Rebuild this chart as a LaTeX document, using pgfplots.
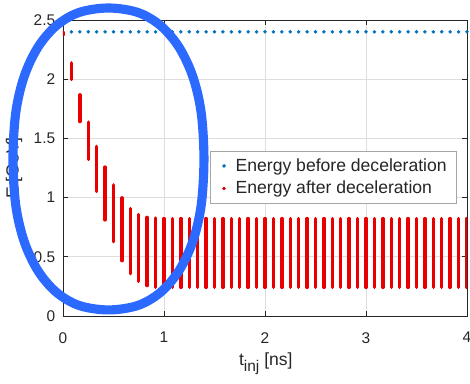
\documentclass[border=0pt]{standalone}
\usepackage{fontspec}
\setmainfont{Liberation Sans}
\usepackage{pgfplots}
\usepackage{pgfplotstable}
\pgfplotsset{compat=1.18}
\definecolor{mblue}{RGB}{0,114,189}
\definecolor{mred}{RGB}{232,0,0}
\definecolor{ellblue}{RGB}{44,106,255}
\definecolor{axgray}{RGB}{38,38,38}

\pgfplotstableread{
t E
0.0833 2.4
0.1667 2.4
0.2500 2.4
0.3333 2.4
0.4167 2.4
0.5000 2.4
0.5833 2.4
0.6667 2.4
0.7500 2.4
0.8333 2.4
0.9167 2.4
1.0000 2.4
1.0833 2.4
1.1667 2.4
1.2500 2.4
1.3333 2.4
1.4167 2.4
1.5000 2.4
1.5833 2.4
1.6667 2.4
1.7500 2.4
1.8333 2.4
1.9167 2.4
2.0000 2.4
2.0833 2.4
2.1667 2.4
2.2500 2.4
2.3333 2.4
2.4167 2.4
2.5000 2.4
2.5833 2.4
2.6667 2.4
2.7500 2.4
2.8333 2.4
2.9167 2.4
3.0000 2.4
3.0833 2.4
3.1667 2.4
3.2500 2.4
3.3333 2.4
3.4167 2.4
3.5000 2.4
3.5833 2.4
3.6667 2.4
3.7500 2.4
3.8333 2.4
3.9167 2.4
4.0000 2.4
}\before

\pgfplotstableread{
t lo d
0.0000 2.375 0.020
0.0833 1.997 0.141
0.1667 1.642 0.226
0.2500 1.322 0.316
0.3333 1.052 0.381
0.4167 0.812 0.446
0.5000 0.627 0.481
0.5833 0.467 0.531
0.6667 0.357 0.551
0.7500 0.292 0.566
0.8333 0.257 0.576
0.9167 0.242 0.586
1.0000 0.242 0.581
1.0833 0.242 0.581
1.1667 0.242 0.581
1.2500 0.242 0.581
1.3333 0.242 0.581
1.4167 0.242 0.581
1.5000 0.242 0.581
1.5833 0.242 0.581
1.6667 0.242 0.581
1.7500 0.242 0.581
1.8333 0.242 0.581
1.9167 0.242 0.581
2.0000 0.242 0.581
2.0833 0.242 0.581
2.1667 0.242 0.581
2.2500 0.242 0.581
2.3333 0.242 0.581
2.4167 0.242 0.581
2.5000 0.242 0.581
2.5833 0.242 0.581
2.6667 0.242 0.581
2.7500 0.242 0.581
2.8333 0.242 0.581
2.9167 0.242 0.581
3.0000 0.242 0.581
3.0833 0.242 0.581
3.1667 0.242 0.581
3.2500 0.242 0.581
3.3333 0.242 0.581
3.4167 0.242 0.581
3.5000 0.242 0.581
3.5833 0.242 0.581
3.6667 0.242 0.581
3.7500 0.242 0.581
3.8333 0.242 0.581
3.9167 0.242 0.581
4.0000 0.242 0.581
}\after

\begin{document}
\begin{tikzpicture}
\begin{axis}[
  scale only axis, width=10.1cm, height=7.4cm,
  xmin=0, xmax=4, ymin=0, ymax=2.5,
  xtick={0,1,2,3,4}, ytick={0,0.5,1,1.5,2,2.5},
  grid=major, major grid style={draw=black!13, line width=0.5pt},
  tick align=inside, major tick length=3.5pt,
  axis line style={axgray, line width=0.6pt},
  tick style={axgray, line width=0.6pt},
  ticklabel style={font=\fontsize{11}{13}\selectfont, text=axgray},
  /pgf/number format/assume math mode=true,
  xticklabel style={yshift=-8pt},
  yticklabel style={xshift=-2pt},
  xlabel={t\raisebox{-0.6ex}{\fontsize{11}{12}\selectfont inj} [ns]},
  ylabel={E [GeV]},
  label style={font=\fontsize{12.5}{14}\selectfont, text=axgray},
  xlabel style={at={(axis description cs:0.502,-0.108)}, anchor=north},
  ylabel style={at={(axis description cs:-0.121,0.5)}, anchor=center},
  legend style={at={(axis description cs:0.975,0.557)}, anchor=north east,
    draw=black!35, line width=0.5pt, fill=white,
    font=\fontsize{12.5}{14}\selectfont, text=axgray, row sep=1.5pt,
    inner ysep=3pt, inner xsep=5pt},
  legend cell align=left,
]
\addlegendimage{legend image code/.code={\path[draw=none] (-0.16cm,0) -- (0.22cm,0); \fill[mblue] (0,0) circle (1pt);}}
\addlegendentry{Energy before deceleration}
\addlegendimage{legend image code/.code={\path[draw=none] (-0.16cm,0) -- (0.22cm,0); \fill[mred] (0,0) circle (1pt);}}
\addlegendentry{Energy after deceleration}
\addplot[forget plot, only marks, mark=*, mark size=1.05pt, mblue]
  table[x=t, y=E]{\before};
\addplot[forget plot, draw=none, no marks,
  error bars/.cd, y dir=plus, y explicit, error mark=none,
  error bar style={draw=mred, line width=2.4pt, line cap=round}]
  table[x=t, y=lo, y error=d]{\after};
\coordinate (sw) at (rel axis cs:0,0);
\coordinate (ne) at (rel axis cs:1,1);
\coordinate (tl) at (rel axis cs:0,1);
\end{axis}
% highlight ring (annotation), in pixel units of the reference
\begin{scope}[shift={([shift={(-1.575cm,0.5cm)}]tl)}, x=0.025cm, y=-0.025cm]
\draw[ellblue, line width=6.5pt] plot[smooth cycle, tension=0.55] coordinates {
 (204,159) (201.2,112.4) (192.8,76.4) (179.1,47.3) (160.8,25.8) (138,12.5)
 (108.5,8) (79,12.5) (56.2,25.8) (37.9,47.3) (24.2,76.4) (15.8,112.4)
 (13,159) (15.8,205.6) (24.2,241.6) (37.9,270.7) (56.2,292.2) (79,305.5)
 (108.5,310) (138,305.5) (160.8,292.2) (179.1,270.7) (192.8,241.6) (201.2,205.6)};
\end{scope}
\pgfresetboundingbox
\path ([shift={(-1.575cm,-1.675cm)}]sw) rectangle ([shift={(0.075cm,0.5cm)}]ne);
\end{tikzpicture}
\end{document}
